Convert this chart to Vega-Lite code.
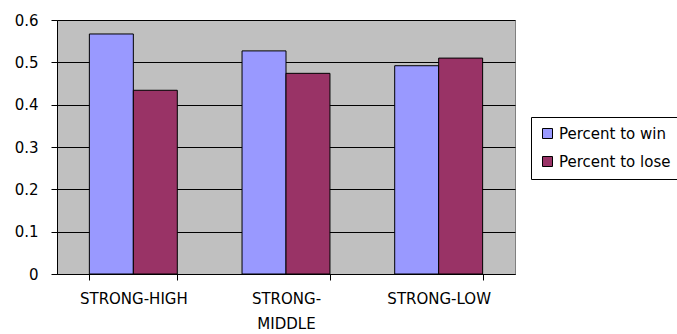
{
  "$schema": "https://vega.github.io/schema/vega-lite/v6.json",
  "autosize": {"type": "none"},
  "width": 458,
  "height": 254,
  "padding": {"left": 57, "top": 20, "right": 162, "bottom": 60},
  "background": "white",
  "data": {"values": [
    {"cat": "STRONG-HIGH", "series": "Percent to win", "value": 0.567},
    {"cat": "STRONG-HIGH", "series": "Percent to lose", "value": 0.434},
    {"cat": "STRONG-MIDDLE", "series": "Percent to win", "value": 0.527},
    {"cat": "STRONG-MIDDLE", "series": "Percent to lose", "value": 0.474},
    {"cat": "STRONG-LOW", "series": "Percent to win", "value": 0.492},
    {"cat": "STRONG-LOW", "series": "Percent to lose", "value": 0.510}
  ]},
  "config": {
    "view": {"fill": "#C0C0C0", "stroke": "#808080", "strokeWidth": 1},
    "font": "DejaVu Sans"
  },
  "mark": {"type": "bar", "stroke": "black", "strokeWidth": 1},
  "encoding": {
    "x": {
      "field": "cat", "type": "nominal",
      "sort": ["STRONG-HIGH", "STRONG-MIDDLE", "STRONG-LOW"],
      "scale": {"paddingInner": 0.424, "paddingOuter": 0.212},
      "axis": {
        "title": null, "labelAngle": 0, "domainColor": "black", "tickColor": "black", "zindex": 1,
        "ticks": true, "tickBand": "extent", "tickSize": 6, "tickWidth": 1, "labelFontSize": 15, "labelColor": "black",
        "labelPadding": 11, "labelLineHeight": 25, "labelOverlap": false,
        "labelExpr": "datum.label == 'STRONG-MIDDLE' ? ['STRONG-', 'MIDDLE'] : datum.label"
      }
    },
    "xOffset": {"field": "series", "type": "nominal", "sort": ["Percent to win", "Percent to lose"], "scale": {"paddingInner": 0, "paddingOuter": 0}},
    "y": {
      "field": "value", "type": "quantitative",
      "scale": {"domain": [0, 0.6], "nice": false},
      "axis": {
        "title": null, "values": [0, 0.1, 0.2, 0.3, 0.4, 0.5, 0.6], "labelOverlap": false,
        "format": "~g", "gridColor": "black", "gridOpacity": 1, "domainColor": "black",
        "tickColor": "black", "tickSize": 6, "labelFontSize": 15, "labelColor": "black", "labelPadding": 13
      }
    },
    "color": {
      "field": "series", "type": "nominal",
      "sort": ["Percent to win", "Percent to lose"],
      "scale": {"domain": ["Percent to win", "Percent to lose"], "range": ["#9999FF", "#993366"]},
      "legend": {
        "title": null, "orient": "none", "legendX": 474, "legendY": 97,
        "strokeColor": "black", "fillColor": "white", "padding": 9,
        "symbolType": "square", "symbolSize": 100, "symbolStrokeColor": "black", "symbolStrokeWidth": 1,
        "labelFontSize": 15, "labelColor": "black", "rowPadding": 12, "labelOffset": 4
      }
    }
  }
}
